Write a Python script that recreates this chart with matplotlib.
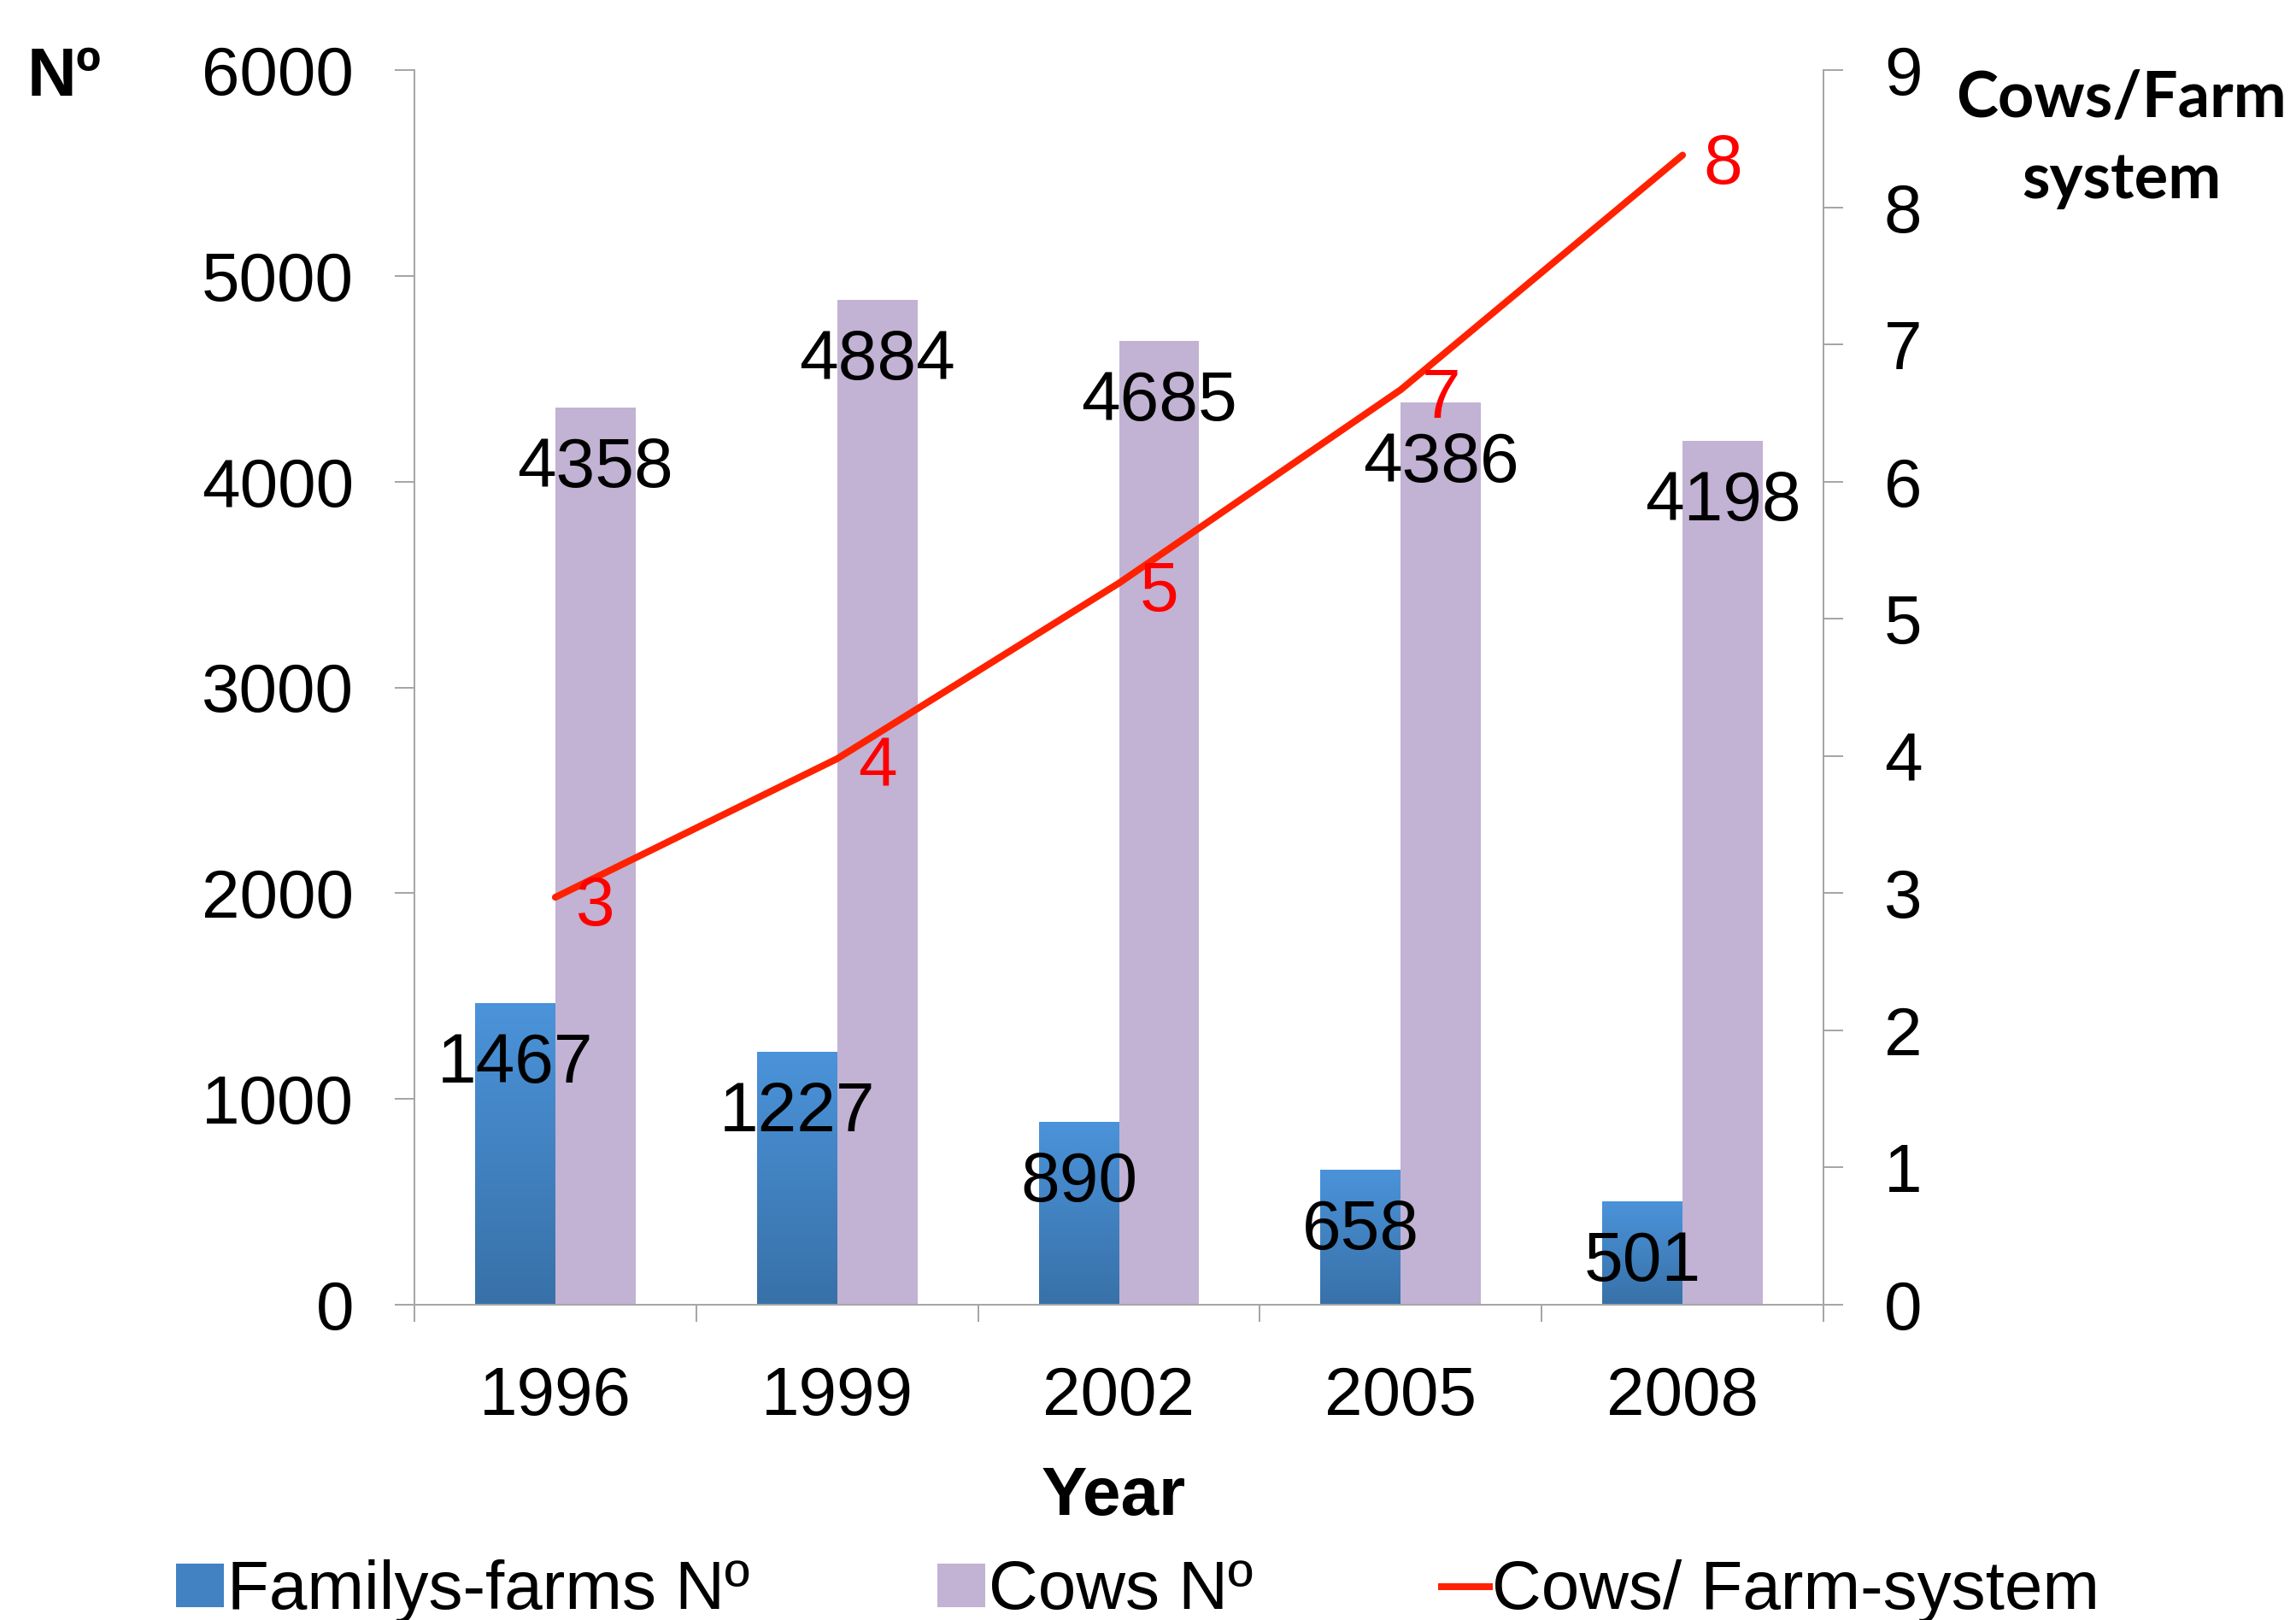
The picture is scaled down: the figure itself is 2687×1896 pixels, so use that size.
import numpy as np
import matplotlib.pyplot as plt
from matplotlib.colors import LinearSegmentedColormap
from matplotlib.patches import Patch
from matplotlib.lines import Line2D

plt.rcParams['font.family'] = ['Liberation Sans', 'DejaVu Sans']

# data
years = ['1996', '1999', '2002', '2005', '2008']
farms = [1467, 1227, 890, 658, 501]
cows = [4358, 4884, 4685, 4386, 4198]
cows_per_farm = [2.97, 3.98, 5.26, 6.67, 8.38]

BLUE_TOP = '#4B93DA'
BLUE_BOT = '#3871A8'
BLUE_MID = '#4382C2'
PURPLE = '#C2B2D3'
RED_LINE = '#FF2200'
GRAY = '#A6A6A6'
FS = 80

W, H = 2687, 1896
fig = plt.figure(figsize=(W / 72, H / 72), dpi=72)
ax = fig.add_axes([485 / W, 1 - 1527 / H, (2134 - 485) / W, (1527 - 82) / H])

x = np.arange(len(years))
bw = 0.285
blue_bars = ax.bar(x - bw / 2, farms, bw, color=BLUE_MID, zorder=2)
ax.bar(x + bw / 2, cows, bw, color=PURPLE, zorder=2)

# vertical gradient on the farm bars
cmap = LinearSegmentedColormap.from_list('blue', [BLUE_BOT, BLUE_TOP])
grad = np.linspace(1, 0, 256).reshape(-1, 1)
for rect in blue_bars:
    x0 = rect.get_x()
    im = ax.imshow(grad, cmap=cmap, extent=[x0, x0 + rect.get_width(), 0, rect.get_height()],
                   aspect='auto', zorder=2.1)
    im.set_clip_path(rect)

for xi, v in zip(x, farms):
    ax.annotate(str(v), (xi - bw / 2, v), xytext=(0, -72), textcoords='offset points',
                ha='center', va='center', fontsize=FS + 2, zorder=5)
for xi, v in zip(x, cows):
    ax.annotate(str(v), (xi + bw / 2, v), xytext=(0, -72), textcoords='offset points',
                ha='center', va='center', fontsize=FS + 2, zorder=5)

ax.set_xlim(-0.5, len(years) - 0.5)
ax.set_ylim(0, 6000)
ax.set_yticks(range(0, 6001, 1000))
ax.set_xticks(x)
ax.set_xticklabels(years)
ax.set_xticks(np.arange(-0.5, len(years), 1), minor=True)
ax.tick_params(axis='x', which='major', length=0, pad=71, labelsize=FS)
ax.tick_params(axis='x', which='minor', length=20, width=2, color=GRAY)
ax.tick_params(axis='y', length=23, width=2, color=GRAY, pad=48, labelsize=FS)
for s in ['top', 'right']:
    ax.spines[s].set_visible(False)
for s in ['left', 'bottom']:
    ax.spines[s].set_color(GRAY)
    ax.spines[s].set_linewidth(2)

ax2 = ax.twinx()
ax2.plot(x, cows_per_farm, color=RED_LINE, lw=8, solid_capstyle='round', zorder=3)
for xi, v in zip(x, cows_per_farm):
    ax2.annotate(f"{v:.0f}", (xi, v), xytext=(47, -12), textcoords='offset points',
                 ha='center', va='center', fontsize=FS + 2, color='red')
ax2.set_ylim(0, 9)
ax2.set_yticks(range(0, 10))
ax2.tick_params(axis='y', length=23, width=2, color=GRAY, pad=48, labelsize=FS)
for s in ['top', 'left', 'bottom']:
    ax2.spines[s].set_visible(False)
ax2.spines['right'].set_color(GRAY)
ax2.spines['right'].set_linewidth(2)

fig.text(75 / W, 1 - 91 / H, 'Nº', weight='bold', ha='center', va='center', fontsize=FS)
fig.text(2483 / W, 1 - 163 / H, 'Cows/Farm\nsystem', family=['Lato', 'DejaVu Sans'],
         weight='bold', ha='center', va='center', fontsize=74, linespacing=1.45)
fig.text(1303 / W, 1 - 1752 / H, 'Year', weight='bold', ha='center', va='center', fontsize=FS)

handles = [Patch(facecolor=BLUE_MID), Patch(facecolor=PURPLE), Line2D([], [], color=RED_LINE, lw=8)]
labels = ['Familys-farms Nº', 'Cows Nº', 'Cows/ Farm-system']
fig.legend(handles, labels, loc='center left', bbox_to_anchor=(206 / W, 33 / H), ncol=3,
           frameon=False, fontsize=FS, handlelength=0.7, handleheight=0.6,
           handletextpad=0.05, columnspacing=2.75, borderpad=0, borderaxespad=0)

fig.savefig('out.png', dpi=72)
